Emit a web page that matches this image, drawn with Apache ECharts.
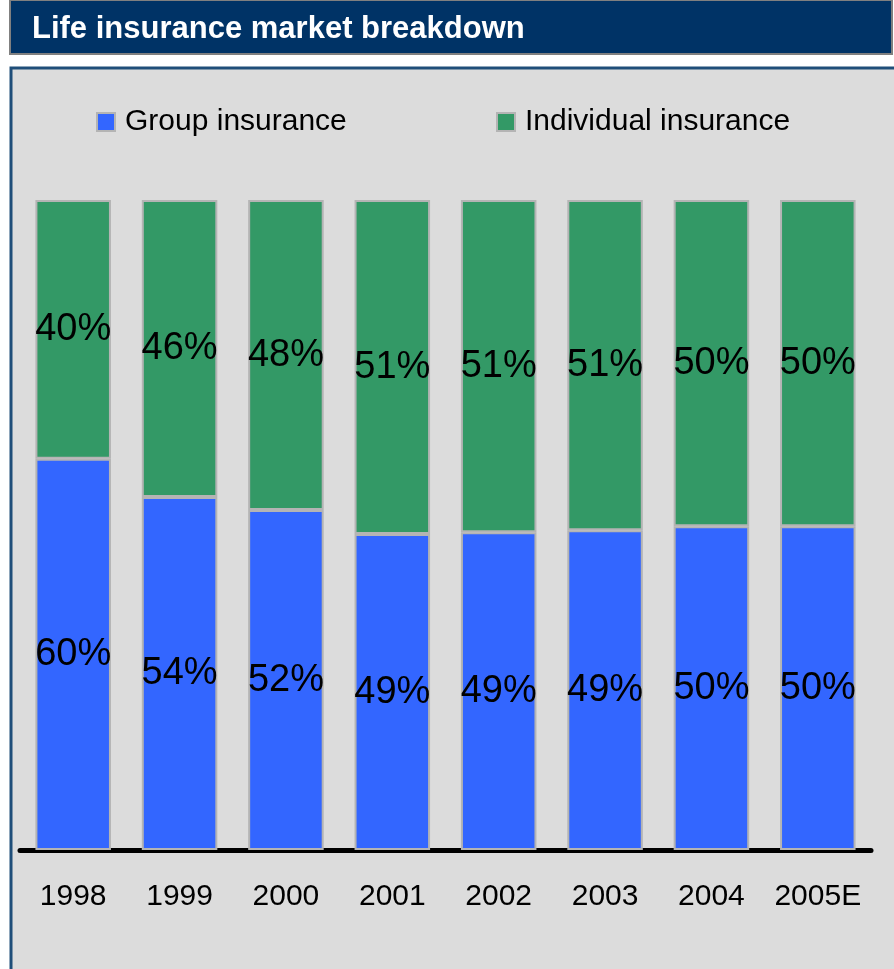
<!DOCTYPE html>
<html>
<head>
<meta charset="utf-8">
<style>
  html, body { margin: 0; padding: 0; background: #ffffff; }
  #chart { width: 894px; height: 969px; }
</style>
<script src="https://cdn.jsdelivr.net/npm/echarts@6/dist/echarts.min.js"></script>
</head>
<body>
<div id="chart"></div>
<script>
// years on the x axis
var years = ['1998', '1999', '2000', '2001', '2002', '2003', '2004', '2005E'];
// share of the market, in percent
var groupShare = [60.2, 54.3, 52.3, 48.6, 48.9, 49.2, 49.8, 49.8];
var individualShare = [39.8, 45.7, 47.7, 51.4, 51.1, 50.8, 50.2, 50.2];

var font = 'Liberation Sans, Arial, sans-serif';
var myChart = echarts.init(document.getElementById('chart'));

function pctLabel(p) {
  return Math.round(p.value) + '%';
}

var legendText = { fontSize: 30, color: '#000', fontFamily: font, lineHeight: 32, padding: [0, 0, 0, 5] };

var option = {
  backgroundColor: '#ffffff',
  animation: false,
  textStyle: { fontFamily: font },
  graphic: [
    {
      type: 'rect', z: -10,
      shape: { x: 10, y: 0, width: 882, height: 54 },
      style: { fill: '#003366', stroke: '#808080', lineWidth: 2 }
    },
    {
      type: 'rect', z: -10,
      shape: { x: 11, y: 68, width: 895, height: 920 },
      style: { fill: '#dcdcdc', stroke: '#1f4e79', lineWidth: 3 }
    }
  ],
  title: {
    text: 'Life insurance market breakdown',
    left: 27,
    top: 9,
    textStyle: { color: '#ffffff', fontWeight: 'bold', fontSize: 31, fontFamily: font }
  },
  legend: [
    {
      data: [{ name: 'Group insurance', icon: 'rect' }],
      left: 91, top: 101,
      itemWidth: 18, itemHeight: 18,
      textStyle: legendText
    },
    {
      data: [{ name: 'Individual insurance', icon: 'rect' }],
      left: 491, top: 101,
      itemWidth: 18, itemHeight: 18,
      textStyle: legendText
    }
  ],
  grid: { left: 20, right: 23, top: 200, bottom: 119 },
  xAxis: {
    type: 'category',
    data: years,
    axisTick: { show: false },
    axisLine: { lineStyle: { color: '#000', width: 5, cap: 'round' } },
    axisLabel: { interval: 0, fontSize: 30, color: '#000', margin: 32, fontFamily: font }
  },
  yAxis: {
    type: 'value', min: 0, max: 100, show: false,
    splitLine: { show: false }
  },
  series: [
    {
      name: 'Group insurance',
      type: 'bar', stack: 'total', barWidth: '71%',
      data: groupShare,
      itemStyle: { color: '#3366ff', borderColor: '#b4b4b4', borderWidth: 2 },
      label: { show: true, position: 'inside', fontSize: 38, color: '#000', fontFamily: font, formatter: pctLabel }
    },
    {
      name: 'Individual insurance',
      type: 'bar', stack: 'total', barWidth: '71%',
      data: individualShare,
      itemStyle: { color: '#339966', borderColor: '#b4b4b4', borderWidth: 2 },
      label: { show: true, position: 'inside', fontSize: 38, color: '#000', fontFamily: font, formatter: pctLabel }
    }
  ]
};

myChart.setOption(option);
window.addEventListener('resize', myChart.resize);
</script>
</body>
</html>
